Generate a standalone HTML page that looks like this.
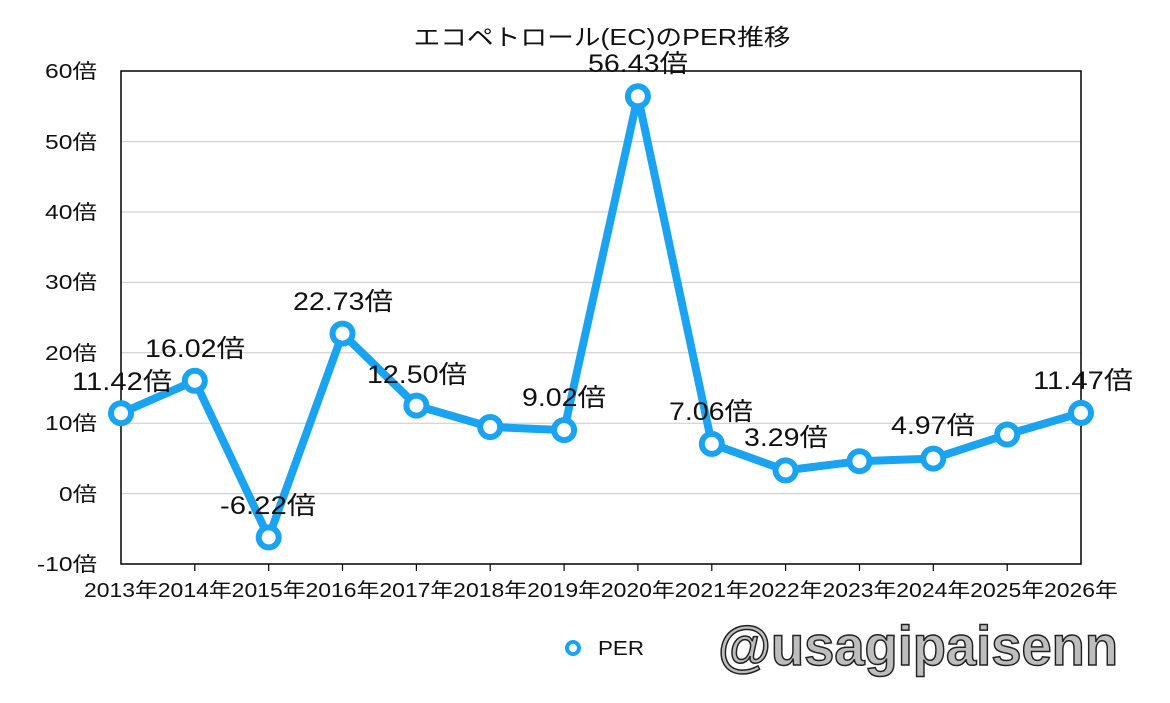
<!DOCTYPE html>
<html><head><meta charset="utf-8"><style>
html,body{margin:0;padding:0;background:#fff}
svg{display:block}
text{font-family:"Liberation Sans","Noto Sans CJK JP",sans-serif;fill:#111}
</style></head><body>
<svg width="1170" height="703" viewBox="0 0 1170 703" xmlns="http://www.w3.org/2000/svg">
<rect width="1170" height="703" fill="#fff"/>
<text x="602" y="45" font-size="23" text-anchor="middle" textLength="377" lengthAdjust="spacingAndGlyphs">エコペトロール(EC)のPER推移</text>
<g stroke="#c8c8c8" stroke-width="1">
<line x1="121" y1="141.6" x2="1081" y2="141.6"/>
<line x1="121" y1="212" x2="1081" y2="212"/>
<line x1="121" y1="282.4" x2="1081" y2="282.4"/>
<line x1="121" y1="352.8" x2="1081" y2="352.8"/>
<line x1="121" y1="423.2" x2="1081" y2="423.2"/>
<line x1="121" y1="493.6" x2="1081" y2="493.6"/>
</g>
<rect x="121" y="71" width="960" height="493" fill="none" stroke="#000" stroke-width="1.5"/>
<g stroke="#000" stroke-width="1.2">
<line x1="194.8" y1="564" x2="194.8" y2="571"/><line x1="268.7" y1="564" x2="268.7" y2="571"/><line x1="342.5" y1="564" x2="342.5" y2="571"/><line x1="416.4" y1="564" x2="416.4" y2="571"/><line x1="490.2" y1="564" x2="490.2" y2="571"/><line x1="564.1" y1="564" x2="564.1" y2="571"/><line x1="637.9" y1="564" x2="637.9" y2="571"/><line x1="711.8" y1="564" x2="711.8" y2="571"/><line x1="785.6" y1="564" x2="785.6" y2="571"/><line x1="859.5" y1="564" x2="859.5" y2="571"/><line x1="933.3" y1="564" x2="933.3" y2="571"/><line x1="1007.2" y1="564" x2="1007.2" y2="571"/>
</g>
<g font-size="20" text-anchor="end">
<text x="97" y="78" textLength="52" lengthAdjust="spacingAndGlyphs">60倍</text><text x="97" y="149" textLength="52" lengthAdjust="spacingAndGlyphs">50倍</text><text x="97" y="219" textLength="52" lengthAdjust="spacingAndGlyphs">40倍</text><text x="97" y="289" textLength="52" lengthAdjust="spacingAndGlyphs">30倍</text><text x="97" y="360" textLength="52" lengthAdjust="spacingAndGlyphs">20倍</text><text x="97" y="430" textLength="52" lengthAdjust="spacingAndGlyphs">10倍</text><text x="97" y="501" textLength="38" lengthAdjust="spacingAndGlyphs">0倍</text><text x="97" y="571" textLength="60" lengthAdjust="spacingAndGlyphs">-10倍</text>
</g>
<g font-size="20" text-anchor="middle">
<text x="121" y="597" textLength="74" lengthAdjust="spacingAndGlyphs">2013年</text><text x="194.8" y="597" textLength="74" lengthAdjust="spacingAndGlyphs">2014年</text><text x="268.7" y="597" textLength="74" lengthAdjust="spacingAndGlyphs">2015年</text><text x="342.5" y="597" textLength="74" lengthAdjust="spacingAndGlyphs">2016年</text><text x="416.4" y="597" textLength="74" lengthAdjust="spacingAndGlyphs">2017年</text><text x="490.2" y="597" textLength="74" lengthAdjust="spacingAndGlyphs">2018年</text><text x="564.1" y="597" textLength="74" lengthAdjust="spacingAndGlyphs">2019年</text><text x="637.9" y="597" textLength="74" lengthAdjust="spacingAndGlyphs">2020年</text><text x="711.8" y="597" textLength="74" lengthAdjust="spacingAndGlyphs">2021年</text><text x="785.6" y="597" textLength="74" lengthAdjust="spacingAndGlyphs">2022年</text><text x="859.5" y="597" textLength="74" lengthAdjust="spacingAndGlyphs">2023年</text><text x="933.3" y="597" textLength="74" lengthAdjust="spacingAndGlyphs">2024年</text><text x="1007.2" y="597" textLength="74" lengthAdjust="spacingAndGlyphs">2025年</text><text x="1081" y="597" textLength="74" lengthAdjust="spacingAndGlyphs">2026年</text>
</g>
<polyline fill="none" stroke="#1aa3f0" stroke-width="8" stroke-linejoin="round" points="121,413.2 194.8,380.8 268.7,537.4 342.5,333.6 416.4,405.6 490.2,427 564.1,430.1 637.9,96.3 711.8,443.9 785.6,470.4 859.5,461.2 933.3,458.6 1007.2,434.5 1081,412.9"/>
<g fill="#fff" stroke="#1aa3f0" stroke-width="6">
<circle cx="121" cy="413.2" r="10"/><circle cx="194.8" cy="380.8" r="10"/><circle cx="268.7" cy="537.4" r="10"/><circle cx="342.5" cy="333.6" r="10"/><circle cx="416.4" cy="405.6" r="10"/><circle cx="490.2" cy="427" r="10"/><circle cx="564.1" cy="430.1" r="10"/><circle cx="637.9" cy="96.3" r="10"/><circle cx="711.8" cy="443.9" r="10"/><circle cx="785.6" cy="470.4" r="10"/><circle cx="859.5" cy="461.2" r="10"/><circle cx="933.3" cy="458.6" r="10"/><circle cx="1007.2" cy="434.5" r="10"/><circle cx="1081" cy="412.9" r="10"/>
</g>
<g font-size="25" text-anchor="middle">
<text x="122" y="390" textLength="100" lengthAdjust="spacingAndGlyphs">11.42倍</text><text x="195" y="357" textLength="100" lengthAdjust="spacingAndGlyphs">16.02倍</text><text x="268" y="514" textLength="96" lengthAdjust="spacingAndGlyphs">-6.22倍</text><text x="343" y="310" textLength="100" lengthAdjust="spacingAndGlyphs">22.73倍</text><text x="417" y="383" textLength="100" lengthAdjust="spacingAndGlyphs">12.50倍</text><text x="564" y="406" textLength="84" lengthAdjust="spacingAndGlyphs">9.02倍</text><text x="638" y="72" textLength="100" lengthAdjust="spacingAndGlyphs">56.43倍</text><text x="711" y="420" textLength="84" lengthAdjust="spacingAndGlyphs">7.06倍</text><text x="786" y="446" textLength="84" lengthAdjust="spacingAndGlyphs">3.29倍</text><text x="933" y="434" textLength="84" lengthAdjust="spacingAndGlyphs">4.97倍</text><text x="1083" y="389" textLength="100" lengthAdjust="spacingAndGlyphs">11.47倍</text>
</g>
<circle cx="573" cy="648" r="6" fill="#fff" stroke="#1aa3f0" stroke-width="4"/>
<text x="598" y="655" font-size="20" textLength="46" lengthAdjust="spacingAndGlyphs">PER</text>
<text x="718" y="665" font-size="56" font-weight="bold" textLength="400" lengthAdjust="spacingAndGlyphs" style="fill:#bdbdbd;stroke:#222;stroke-width:1.5">@usagipaisenn</text>
</svg>
</body></html>
